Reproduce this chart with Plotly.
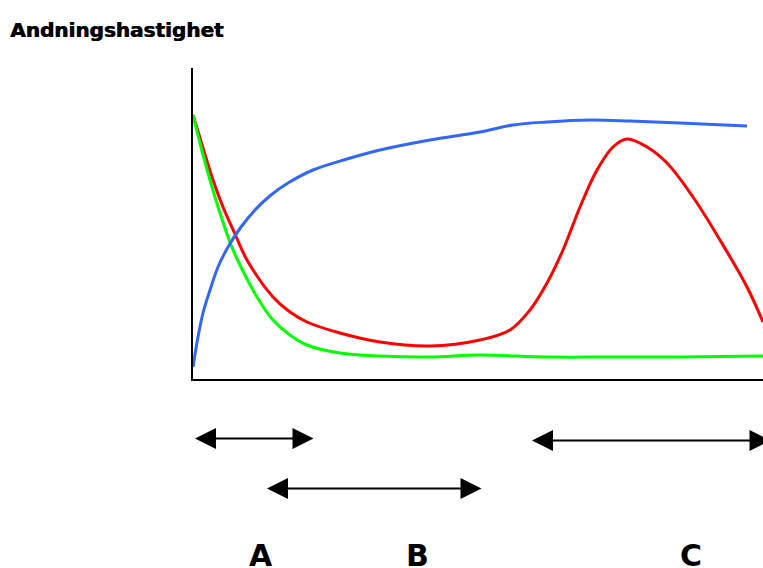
import plotly.graph_objects as go

# curve values (time axis 0-570, rate axis 0-311)
blue_t = [0, 5, 10, 17, 25, 35, 48, 62, 78, 95, 120, 154, 187, 237, 287, 320, 354, 397, 437,
          487, 554]
blue_rate = [12, 42, 66, 89, 112, 132, 152, 169, 184, 196, 209, 220, 229, 239, 247, 254, 257,
             259, 258, 256, 253]

red_t = [0, 10, 20, 30, 42, 54, 80, 97, 114, 147, 187, 237, 287, 317, 337, 354, 370, 387, 404,
         420, 434, 454, 474, 500, 527, 554, 570]
red_rate = [264, 231, 199, 172, 145, 119, 82, 67, 57, 46, 37, 33, 39, 49, 69, 96, 129, 172, 209,
            232, 240, 232, 216, 182, 139, 92, 57]

green_t = [0, 8, 17, 27, 38, 47, 64, 80, 97, 114, 147, 187, 237, 287, 354, 420, 487, 570]
green_rate = [264, 232, 199, 166, 134, 114, 82, 59, 44, 34, 26, 23, 22, 24, 22, 22, 22, 23]

# phases shown as double arrows under the time axis
phase_labels = ["A", "B", "C"]
phase_start = [2, 74, 339]
phase_end = [122, 290, 579]
phase_label_x = [67.5, 224.5, 497.5]

X_MAX = 570
Y_MAX = 311

fig = go.Figure()

for t, rate, color in [(red_t, red_rate, "#ff0000"),
                       (green_t, green_rate, "#00ff00"),
                       (blue_t, blue_rate, "#3366ff")]:
    fig.add_trace(go.Scatter(
        x=t, y=rate, mode="lines",
        line=dict(color=color, width=3, shape="spline", smoothing=1.0),
        hoverinfo="skip", showlegend=False,
    ))

# arrow rows in paper coords (below the plot area)
arrow_y = [-0.191, -0.352, -0.198]
for start, end, ay in zip(phase_start, phase_end, arrow_y):
    fig.add_annotation(
        x=start, y=ay, xref="x", yref="paper",
        ax=end, ay=0, axref="x", ayref="pixel",
        text="", showarrow=True,
        arrowside="end+start", arrowhead=2, startarrowhead=2,
        arrowsize=2.1, startarrowsize=2.1, arrowwidth=2,
        arrowcolor="black",
    )

for label, lx in zip(phase_labels, phase_label_x):
    fig.add_annotation(
        x=lx, y=-0.568, xref="x", yref="paper",
        text=label, showarrow=False,
        font=dict(family="DejaVu Sans", size=30, color="black", weight="bold"),
        xanchor="center", yanchor="middle",
    )

fig.update_layout(
    width=763, height=568,
    title=dict(
        text="<b>Andningshastighet</b>",
        x=10 / 763, xref="container", xanchor="left",
        y=1 - 30 / 568, yref="container", yanchor="middle",
        # a thin shadow makes the bold title look as heavy as the original
        font=dict(family="DejaVu Sans", size=20, color="black", shadow="0.7px 0 0 #000"),
    ),
    margin=dict(l=193, r=0, t=68, b=189),
    plot_bgcolor="white",
    paper_bgcolor="white",
    xaxis=dict(range=[0, X_MAX], showline=True, linecolor="black", linewidth=2,
               showgrid=False, zeroline=False, showticklabels=False, ticks=""),
    yaxis=dict(range=[0, Y_MAX], showline=True, linecolor="black", linewidth=2,
               showgrid=False, zeroline=False, showticklabels=False, ticks=""),
)

fig.write_html("out.html", config={"displayModeBar": False},
               post_script="document.body.style.margin='0';")
